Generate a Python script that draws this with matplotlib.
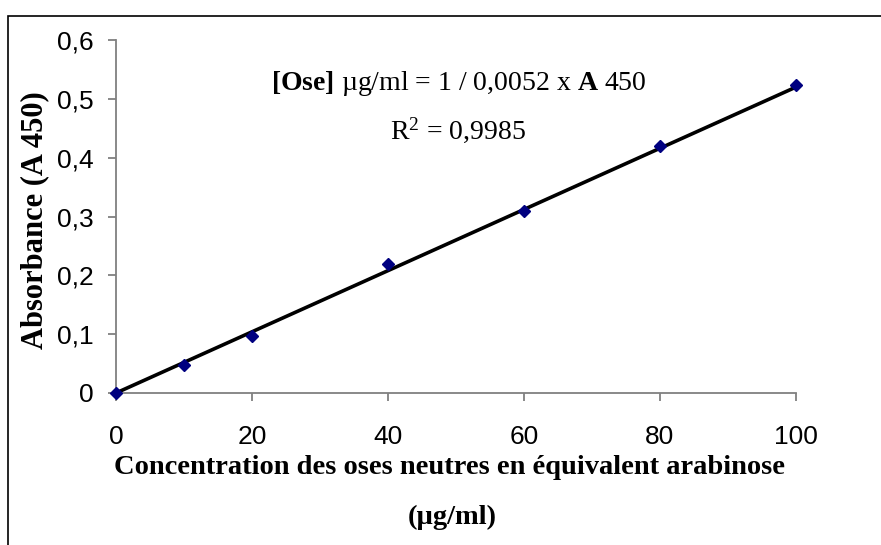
import matplotlib
matplotlib.use("Agg")
import matplotlib.pyplot as plt
from matplotlib.patches import Rectangle
import numpy as np

# Data
concentration = [0, 10, 20, 40, 60, 80, 100]
absorbance = [0.0, 0.047, 0.097, 0.219, 0.310, 0.420, 0.524]
slope = 0.0052
x_ticks = [0, 20, 40, 60, 80, 100]
y_ticks = [0, 0.1, 0.2, 0.3, 0.4, 0.5, 0.6]
y_tick_labels = ["0", "0,1", "0,2", "0,3", "0,4", "0,5", "0,6"]

plt.rcParams['mathtext.fontset'] = 'custom'
plt.rcParams['mathtext.rm'] = 'Liberation Serif'
plt.rcParams['mathtext.bf'] = 'Liberation Serif:bold'
plt.rcParams['mathtext.it'] = 'Liberation Serif:italic'

W, H = 881, 545
fig = plt.figure(figsize=(W / 100, H / 100), dpi=100)
ax = fig.add_axes([116 / W, 1 - 393 / H, (796 - 116) / W, (393 - 40) / H])

# outer frame
fig.patches.append(Rectangle((8 / W, -0.2), 1.2, 1.2 - 16 / H, transform=fig.transFigure,
                             fill=False, edgecolor='black', linewidth=1.2, zorder=0))

xs = np.array([0, 100])
ax.plot(xs, slope * xs, color='black', linewidth=2.6, zorder=2, solid_capstyle='butt')
ax.plot(concentration, absorbance, linestyle='none', marker='D', markersize=6,
        color='#000080', zorder=3, clip_on=False)

ax.set_xlim(0, 100)
ax.set_ylim(0, 0.6)
ax.set_xticks(x_ticks)
ax.set_yticks(y_ticks)
ax.set_yticklabels(y_tick_labels)

for s in ['top', 'right']:
    ax.spines[s].set_visible(False)
for s in ['left', 'bottom']:
    ax.spines[s].set_color('#808080')
    ax.spines[s].set_linewidth(1.3)

ax.tick_params(axis='both', direction='out', length=6, width=1.3, color='#808080',
               labelsize=19)
ax.tick_params(axis='y', pad=10)
ax.tick_params(axis='x', pad=17)
for lab in ax.get_xticklabels() + ax.get_yticklabels():
    lab.set_fontfamily('Liberation Sans')

ax.set_ylabel("Absorbance (A 450)", fontfamily='Liberation Serif', fontweight='bold',
              fontsize=22, va='center')
ax.yaxis.set_label_coords((35 - 116) / (796 - 116), 0.49)

fig.text(449 / W, 1 - 467 / H, "Concentration des oses neutres en équivalent arabinose",
         ha='center', va='center', fontfamily='Liberation Serif', fontweight='bold',
         fontsize=20.5)
fig.text(452 / W, 1 - 517 / H, "(µg/ml)", ha='center', va='center',
         fontfamily='Liberation Serif', fontweight='bold', fontsize=20.5)

fig.text(459 / W, 1 - 83 / H, r"$\mathbf{[Ose]}$ µg/ml = 1 / 0,0052 x $\mathbf{A}$ 450",
         ha='center', va='center', fontfamily='Liberation Serif', fontsize=20)
fig.text(458 / W, 1 - 130 / H, r"R$^2$ = 0,9985", ha='center', va='center',
         fontfamily='Liberation Serif', fontsize=20)

fig.savefig("out.png", dpi=100)
